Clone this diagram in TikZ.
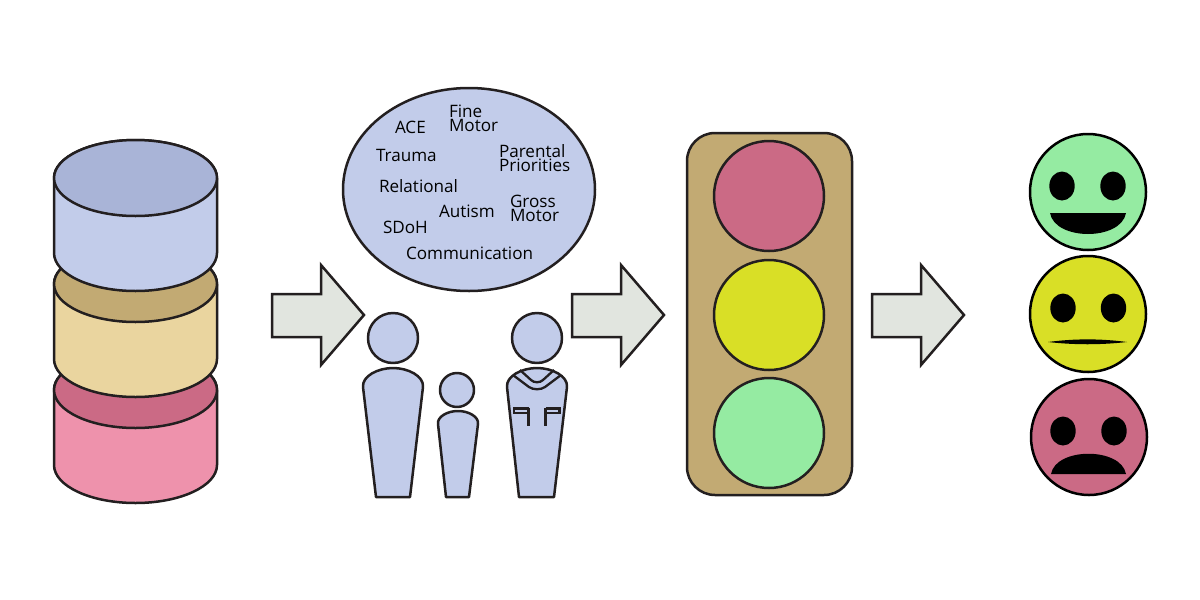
\documentclass[tikz,border=0pt]{standalone}
\usepackage{fontspec}
\setmainfont{Open Sans}
\definecolor{ink}{HTML}{231F20}
\definecolor{blueA}{HTML}{C2CCEA}
\definecolor{blueB}{HTML}{A9B4D7}
\definecolor{tanA}{HTML}{EAD59F}
\definecolor{tanB}{HTML}{C2AA73}
\definecolor{pinkA}{HTML}{EE92AC}
\definecolor{pinkB}{HTML}{CB6A85}
\definecolor{yel}{HTML}{D9DF26}
\definecolor{grn}{HTML}{95EBA2}
\definecolor{arrowfill}{HTML}{E1E5DF}
\tikzset{
  shape line/.style={draw=ink,line width=2.5pt,line join=round},
  thin line/.style={draw=ink,line width=2.3pt,line join=miter},
  arrowshape/.style={shape line,fill=arrowfill,line join=miter},
  lamp/.style={shape line,line width=2.5pt},
  face/.style={draw=black,line width=2.5pt},
  feature/.style={fill=black},
  word/.style={anchor=base west,inner sep=0pt,outer sep=0pt,text=black,font=\fontsize{17.1}{14}\selectfont},
  stacked/.style={word,align=left}
}
\newcommand{\cyl}[4]{%
  \path[shape line,fill=#3] (54,#1) -- (54,#2) arc[start angle=180,end angle=360,x radius=81.5pt,y radius=38pt] -- (217,#1) arc[start angle=0,end angle=180,x radius=81.5pt,y radius=38pt] -- cycle;
  \path[shape line,fill=#4] (135.5,#1) ellipse[x radius=81.5pt,y radius=38pt];
}
\newcommand{\flowarrow}[1]{%
  \path[arrowshape,shift={(#1,0)}] (0,294) -- (49,294) -- (49,265) -- (92,315) -- (49,365) -- (49,337) -- (0,337) -- cycle;
}
\begin{document}
\begin{tikzpicture}[x=1pt,y=-1pt]
\useasboundingbox (0,0) rectangle (1200,600);
% stacked cylinders
\cyl{390}{465}{pinkA}{pinkB}
\cyl{284}{359}{tanA}{tanB}
\cyl{178}{253}{blueA}{blueB}
% arrows
\flowarrow{272}
\flowarrow{572}
\flowarrow{872}
% thought bubble
\path[shape line,fill=blueA] (469,189.5) ellipse[x radius=126pt,y radius=101.5pt];
\node[word] (ace) at (395,133) {ACE};
\node[stacked] (fine) at (449,131) {Fine\\Motor};
\node[word] (trauma) at (376,161) {Trauma};
\node[stacked] (parental) at (499,171) {Parental\\Priorities};
\node[word] (relational) at (379,192) {Relational};
\node[stacked] (gross) at (510,221) {Gross\\Motor};
\node[word] (autism) at (439,217) {Autism};
\node[word] (sdoh) at (383,233) {SDoH};
\node[word] (comm) at (406,259) {Communication};
% adult
\path[shape line,fill=blueA] (393,338) circle[radius=25pt];
\path[shape line,fill=blueA] (376,497) -- (363,387) .. controls (362,376) and (378,368) .. (393,368) .. controls (408,368) and (424,376) .. (423,387) -- (410,497) -- cycle;
% child
\path[shape line,fill=blueA] (457,390) circle[radius=17pt];
\path[shape line,fill=blueA] (446,497) -- (438,424) .. controls (437,417) and (447,411) .. (458,411) .. controls (469,411) and (479,417) .. (478,424) -- (469,497) -- cycle;
% clinician
\path[shape line,fill=blueA] (537,338) circle[radius=25pt];
\path[shape line,fill=blueA] (519,497) -- (507,387) .. controls (506,376) and (522,368) .. (537,368) .. controls (552,368) and (568,376) .. (567,387) -- (554,497) -- cycle;
\path[thin line] (513,375) -- (529,387) .. controls (533,390) and (541,390) .. (545,387) -- (561,375);
\path[thin line] (520,370) -- (531,380) .. controls (534,383) and (540,383) .. (543,380) -- (554,370);
\path[thin line] (528.5,408.5) -- (514,408.5) -- (514,413) -- (528.5,413);
\path[thin line] (528.5,407.5) -- (528.5,426);
\path[thin line] (545.5,408.5) -- (559.5,408.5) -- (559.5,413) -- (545.5,413);
\path[thin line] (545.5,407.5) -- (545.5,426);
% traffic light
\path[shape line,fill=tanB,rounded corners=28pt] (687,133) rectangle (852,495);
\path[lamp,fill=pinkB] (769,196) circle[radius=55pt];
\path[lamp,fill=yel] (769,315) circle[radius=55pt];
\path[lamp,fill=grn] (769,433) circle[radius=55pt];
% happy
\path[face,fill=grn] (1088,192) circle[radius=58pt];
\fill[feature] (1062,186) ellipse[x radius=12.7pt,y radius=14.5pt];
\fill[feature] (1113,186) ellipse[x radius=12.7pt,y radius=14.5pt];
\fill[feature] (1050,213) -- (1126,213) .. controls (1121,241) and (1055,241) .. cycle;
% neutral
\path[face,fill=yel] (1088,314) circle[radius=58pt];
\fill[feature] (1063,308) ellipse[x radius=12.7pt,y radius=14.5pt];
\fill[feature] (1113.5,308) ellipse[x radius=12.7pt,y radius=14.5pt];
\fill[feature] (1048,342) .. controls (1075,338.5) and (1100,338.5) .. (1127,342) .. controls (1100,345) and (1075,345) .. cycle;
% sad
\path[face,fill=pinkB] (1089,437) circle[radius=58pt];
\fill[feature] (1063,431) ellipse[x radius=12.7pt,y radius=14.5pt];
\fill[feature] (1114,431) ellipse[x radius=12.7pt,y radius=14.5pt];
\fill[feature] (1051,474) -- (1126,474) .. controls (1121,447) and (1056,447) .. cycle;
\end{tikzpicture}
\end{document}
